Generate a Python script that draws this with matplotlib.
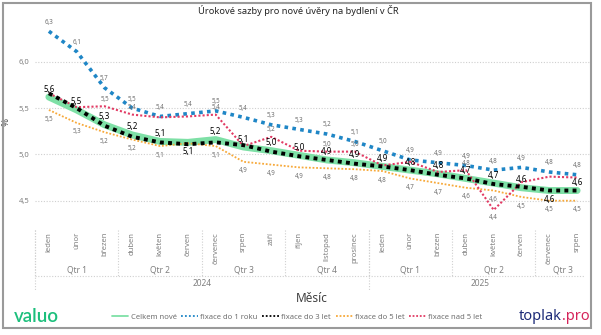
import matplotlib
matplotlib.use('Agg')
import matplotlib.pyplot as plt
import matplotlib.transforms as mtransforms
from matplotlib.patches import Rectangle

plt.rcParams['font.family'] = ['Noto Sans', 'DejaVu Sans']

# Data
months = ['leden', 'únor', 'březen', 'duben', 'květen', 'červen', 'červenec', 'srpen', 'září',
          'říjen', 'listopad', 'prosinec',
          'leden', 'únor', 'březen', 'duben', 'květen', 'červen', 'červenec', 'srpen']
quarters = ['Qtr 1', 'Qtr 2', 'Qtr 3', 'Qtr 4', 'Qtr 1', 'Qtr 2', 'Qtr 3']
quarter_len = [3, 3, 3, 3, 3, 3, 2]
years = ['2024', '2025']
year_len = [12, 8]

celkem = [5.62, 5.48, 5.32, 5.21, 5.14, 5.13, 5.16, 5.08, 5.04, 4.99,
          4.94, 4.91, 4.87, 4.83, 4.79, 4.74, 4.69, 4.64, 4.61, 4.61]
fix1 = [6.33, 6.11, 5.72, 5.50, 5.41, 5.44, 5.47, 5.40, 5.32, 5.27,
        5.22, 5.14, 5.04, 4.94, 4.91, 4.88, 4.83, 4.86, 4.81, 4.78]
fix3 = [5.66, 5.50, 5.31, 5.19, 5.13, 5.11, 5.13, 5.10, 5.03, 4.98,
        4.94, 4.90, 4.87, 4.83, 4.78, 4.74, 4.68, 4.65, 4.61, 4.61]
fix5 = [5.48, 5.34, 5.24, 5.16, 5.09, 5.12, 5.09, 4.92, 4.89, 4.86,
        4.85, 4.84, 4.82, 4.74, 4.69, 4.64, 4.61, 4.54, 4.50, 4.50]
nad5 = [5.66, 5.51, 5.52, 5.43, 5.40, 5.41, 5.43, 5.09, 5.19, 5.04,
        5.03, 5.03, 4.88, 4.92, 4.81, 4.83, 4.40, 4.70, 4.76, 4.75]

x = list(range(len(months)))


def fmt(v):
    return f'{v:.1f}'.replace('.', ',')


fig = plt.figure(figsize=(6.01, 3.35), dpi=100)
ax = fig.add_axes([35 / 601, 1 - 222 / 335, 556 / 601, 200 / 335])

ax.plot(x, celkem, color='#7ee0a6', lw=5, solid_capstyle='round', label='Celkem nové', zorder=2)
ax.plot(x, fix1, color='#1f86c6', lw=2.6, ls=(0, (1, 1.2)), label='fixace do 1 roku', zorder=3)
ax.plot(x, fix3, color='black', lw=2.8, ls=(0, (1, 1.1)), label='fixace do 3 let', zorder=4)
ax.plot(x, fix5, color='#f7a93a', lw=1.3, ls=(0, (1, 1)), label='fixace do 5 let', zorder=3)
ax.plot(x, nad5, color='#e23b64', lw=1.5, ls=(0, (1, 1)), label='fixace nad 5 let', zorder=3)

# data labels (like Power BI, some labels are dropped where they collide)
gray = '#707070'
nad5_shown = {2, 3, 6, 8, 10, 11, 15, 16}
fix5_hidden = {5}
for i in x:
    ax.annotate(fmt(fix1[i]), (i, fix1[i]), xytext=(0, 4), textcoords='offset points',
                ha='center', va='bottom', fontsize=4.5, color=gray)
    if i in nad5_shown:
        below = i == 16
        ax.annotate(fmt(nad5[i]), (i, nad5[i]), xytext=(0, -3 if below else 2.5),
                    textcoords='offset points', ha='center',
                    va='top' if below else 'bottom', fontsize=4.5, color=gray)
    if i not in fix5_hidden:
        ax.annotate(fmt(fix5[i]), (i, fix5[i]), xytext=(0, -4), textcoords='offset points',
                    ha='center', va='top', fontsize=4.5, color=gray)
    below = i in (5, 18)
    ax.annotate(fmt(celkem[i]), (i, celkem[i]), xytext=(0, -3.5 if below else 2.5),
                textcoords='offset points', ha='center',
                va='top' if below else 'bottom', fontsize=5.8, fontweight='bold',
                color='black', zorder=6)

ax.set_xlim(-0.5, len(x) - 0.5)
ax.set_ylim(4.27, 6.43)
ax.set_yticks([4.5, 5.0, 5.5, 6.0])
ax.set_yticklabels([fmt(t) for t in [4.5, 5.0, 5.5, 6.0]], fontsize=5.5, color='#808080')
ax.tick_params(axis='y', length=0, pad=4)
ax.set_xticks([])
ax.grid(axis='y', color='#cfcfcf', ls=(0, (1, 1.5)), lw=0.8)
for s in ax.spines.values():
    s.set_visible(False)
ax.set_ylabel('%', fontsize=7, color='#505050', labelpad=6)

# hierarchical x axis
trans = mtransforms.blended_transform_factory(ax.transData, ax.transAxes)
sep = dict(color='#d0d0d0', lw=0.8, ls=(0, (1, 1.5)), transform=trans, clip_on=False)
for i, m in enumerate(months):
    ax.text(i, -0.05, m, transform=trans, rotation=90, ha='center', va='top',
            fontsize=5.5, color='#808080')
start = 0
for q, n in zip(quarters, quarter_len):
    ax.text(start + n / 2 - 0.5, -0.24, q, transform=trans, ha='center', va='center',
            fontsize=6, color='#808080')
    ax.plot([start - 0.5, start - 0.5], [-0.04, -0.27], **sep)
    start += n
start = 0
for yname, n in zip(years, year_len):
    ax.text(start + n / 2 - 0.5, -0.305, yname, transform=trans, ha='center', va='center',
            fontsize=6, color='#808080')
    ax.plot([start - 0.5, start - 0.5], [-0.04, -0.34], **sep)
    start += n
ax.plot([-0.5, len(x) - 0.7], [-0.27, -0.27], **sep)

fig.text(312 / 601, 1 - 298 / 335, 'Měsíc', ha='center', va='center', fontsize=8.5, color='#404040')
fig.text(298 / 601, 1 - 11 / 335, 'Úrokové sazby pro nové úvěry na bydlení v ČR', ha='center',
         va='center', fontsize=6.7, fontweight='bold', color='#252525')

leg = fig.legend(loc='center', bbox_to_anchor=(297 / 601, 1 - 317 / 335), ncol=5, frameon=False,
                 fontsize=5.5, handlelength=2.2, handletextpad=0.3, columnspacing=0.6)
for t in leg.get_texts():
    t.set_color('#707070')
for h in leg.get_lines():
    h.set_linewidth(1.3)

fig.text(14 / 601, 1 - 317 / 335, 'valuo', ha='left', va='center', fontsize=13.5,
         color='#1cbf7c', family='Lato', fontweight='semibold')
t1 = fig.text(519 / 601, 1 - 317 / 335, 'toplak', ha='left', va='center', fontsize=10.5,
              fontweight='bold', color='#1d2b78')
fig.canvas.draw()
bb = t1.get_window_extent().transformed(fig.transFigure.inverted())
fig.text(bb.x1, 1 - 317 / 335, '.pro', ha='left', va='center', fontsize=10.5,
         fontweight='bold', color='#d5245a')

fig.patches.append(Rectangle((3 / 601, 1 - 328 / 335), 588 / 601, 325 / 335,
                             transform=fig.transFigure, fill=False, ec='#9a9a9a', lw=1.5))

fig.savefig('out.png', dpi=100)
